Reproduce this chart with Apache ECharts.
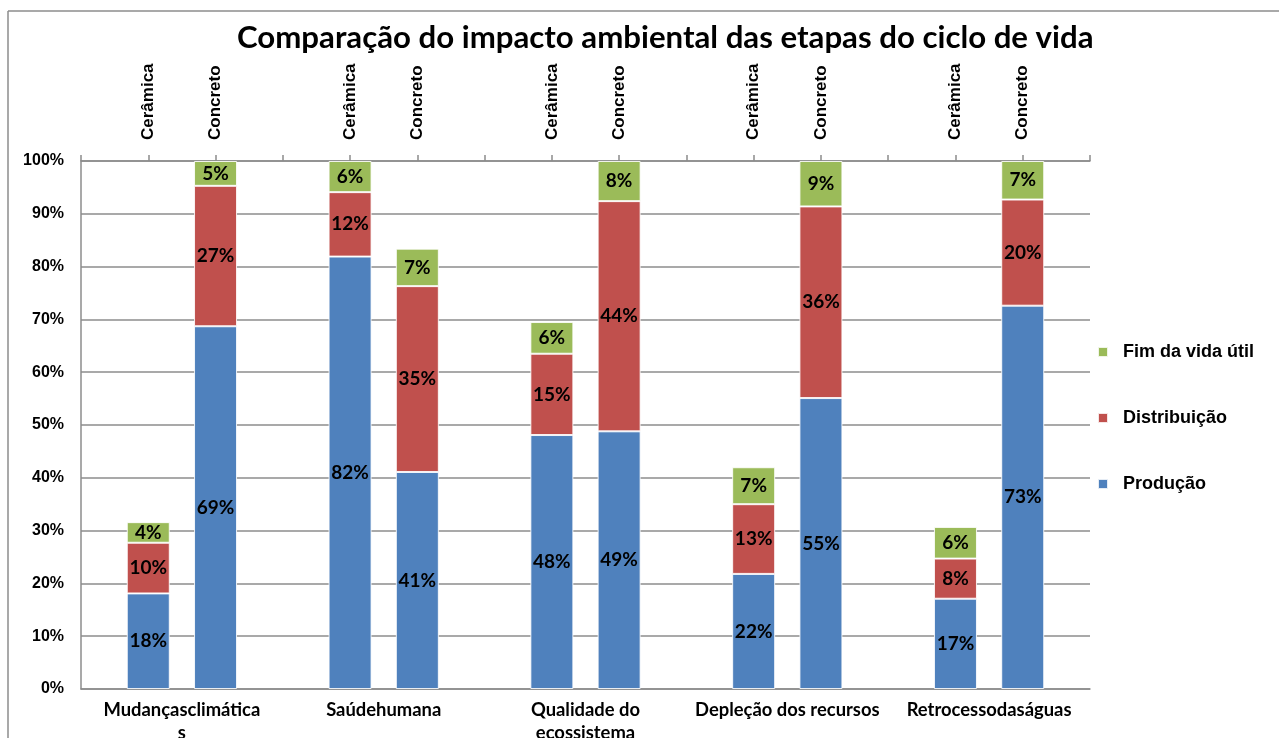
<!DOCTYPE html>
<html><head><meta charset="utf-8">
<script src="https://cdn.jsdelivr.net/npm/echarts@6/dist/echarts.min.js"></script>
<style>html,body{margin:0;padding:0;background:#fff}#c{width:1279px;height:738px}</style>
</head><body><div id="c"></div>
<script>
const titleText = 'Comparação do impacto ambiental das etapas do ciclo de vida';
const groups = ['Mudançasclimática\ns', 'Saúdehumana', 'Qualidade do\necossistema', 'Depleção dos recursos', 'Retrocessodaságuas'];
const materials = ['Cerâmica', 'Concreto'];
const seriesNames = ['Produção', 'Distribuição', 'Fim da vida útil'];
// order per bar: [grupo1 Cerâmica, grupo1 Concreto, grupo2 Cerâmica, ...]
const producao     = [18.1, 68.7, 81.9, 41.1, 48.1, 48.8, 21.8, 55.1, 17.1, 72.6];
const distribuicao = [ 9.6, 26.6, 12.2, 35.2, 15.4, 43.6, 13.2, 36.3,  7.6, 20.1];
const fimVida      = [ 3.9,  4.7,  5.9,  7.1,  6.0,  7.6,  7.0,  8.6,  6.0,  7.3];
const yTickMax = 100, yTickStep = 10;

const colors = ['#4F81BD', '#C0504D', '#9BBB59'];
const slotsPerGroup = materials.length + 1;
const nSlots = groups.length * slotsPerGroup;
// slot positions 0..nSlots (boundary ticks); bars sit on slots 1,2,4,5,...
const slotCats = [];
for (let k = 0; k <= nSlots; k++) slotCats.push(String(k));
function slotOf(i) {
  const g = Math.floor(i / materials.length), m = i % materials.length;
  return g * slotsPerGroup + 1 + m;
}
function toSlots(arr) {
  const out = slotCats.map(() => null);
  arr.forEach((v, i) => { out[slotOf(i)] = v; });
  return out;
}
const seriesData = [producao, distribuicao, fimVida];

const chart = echarts.init(document.getElementById('c'));
chart.setOption({
  backgroundColor: '#fff',
  animation: false,
  title: {
    text: titleText,
    left: 232, top: 17,
    textStyle: { fontFamily: 'Lato', fontWeight: 'bold', fontSize: 31.2, color: '#000' }
  },
  legend: {
    orient: 'vertical',
    left: 1092, top: 338,
    itemWidth: 10, itemHeight: 10, itemGap: 48,
    icon: 'rect',
    data: seriesNames.slice().reverse(),
    textStyle: { fontFamily: 'Liberation Sans', fontWeight: 'bold', fontSize: 18, color: '#000', padding: [0, 0, 0, 10] }
  },
  grid: { left: 81, right: 189, top: 161, bottom: 49, containLabel: false, outerBoundsMode: 'none' },
  xAxis: [
    {
      type: 'category', position: 'top', data: slotCats, boundaryGap: false,
      axisLine: { show: true, onZero: false, lineStyle: { color: '#8c8c8c', width: 1.5 } },
      axisTick: { show: true, length: 6, interval: 0, lineStyle: { color: '#8c8c8c', width: 1.5 } },
      splitLine: { show: false },
      axisLabel: {
        rotate: -90, margin: 21, interval: 0,
        fontFamily: 'Liberation Sans', fontWeight: 'bold', fontSize: 17, color: '#000',
        formatter: (v, idx) => { const r = idx % slotsPerGroup; return r === 0 ? '' : materials[r - 1]; }
      }
    },
    {
      type: 'value', position: 'bottom', min: 0, max: nSlots, interval: slotsPerGroup / 2,
      axisLine: { show: true, onZero: false, lineStyle: { color: '#8c8c8c', width: 1.5 } },
      axisTick: { show: false },
      minorTick: { show: false },
      splitLine: { show: false },
      axisLabel: {
        margin: 10, lineHeight: 23,
        fontFamily: 'Lato', fontWeight: 'bold', fontSize: 18.4, color: '#000',
        formatter: v => {
          const k = Math.round(v / (slotsPerGroup / 2));
          return k % 2 === 1 ? groups[(k - 1) / 2] : '';
        }
      }
    }
  ],
  yAxis: {
    type: 'value', min: 0, max: yTickMax, interval: yTickStep,
    axisLine: { show: true, lineStyle: { color: '#8c8c8c', width: 1.5 } },
    axisTick: { show: false },
    splitLine: { show: true, lineStyle: { color: '#8c8c8c', width: 1.5 } },
    axisLabel: {
      margin: 17,
      fontFamily: 'Liberation Sans', fontWeight: 'bold', fontSize: 16, color: '#000',
      formatter: v => v + '%'
    }
  },
  graphic: [
    { type: 'line', shape: { x1: 8, y1: 11, x2: 1279, y2: 11 }, style: { stroke: '#8c8c8c', lineWidth: 1.5 } },
    { type: 'line', shape: { x1: 8, y1: 11, x2: 8, y2: 738 }, style: { stroke: '#8c8c8c', lineWidth: 1.5 } }
  ],
  series: seriesData.map((arr, s) => ({
    name: seriesNames[s],
    type: 'bar',
    stack: 'total',
    xAxisIndex: 0,
    barWidth: 43,
    data: toSlots(arr),
    itemStyle: { color: colors[s], borderColor: 'rgba(255,255,255,0.85)', borderWidth: 1 },
    label: {
      show: true, position: 'inside',
      fontFamily: 'Lato', fontWeight: 'bold', fontSize: 19, color: '#000',
      formatter: p => Math.round(p.value) + '%'
    }
  }))
});
</script></body></html>
